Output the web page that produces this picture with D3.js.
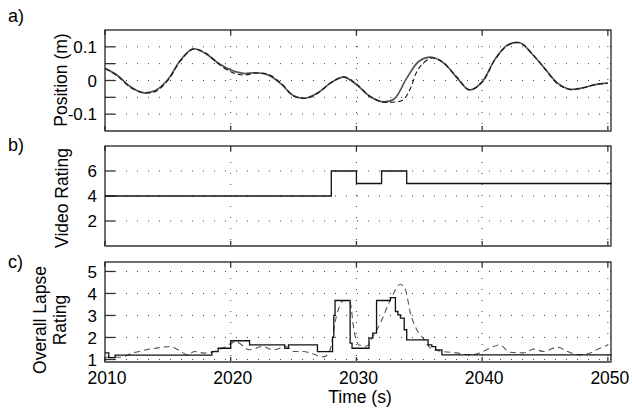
<!DOCTYPE html>
<html>
<head>
<meta charset="utf-8">
<script src="https://cdn.jsdelivr.net/npm/d3@7"></script>
<style>
  body { margin: 0; background: #fff; }
  svg { display: block; font-family: "Liberation Sans", Arial, sans-serif; }
  .grid line { stroke: #444; stroke-width: 1; stroke-dasharray: 1,10; }
  .tick-mark { stroke: #333; stroke-width: 1.3; }
</style>
</head>
<body>
<script>
// ---- data ----
const posTimes = [2010,2011,2012,2013,2014,2015,2016,2017,2018,2019,2020,2021,2022,2023,2024,2025,2026,2027,2028,2029,
  2030,2031,2032,2033,2034,2035,2036,2037,2038,2039,2040,2041,2042,2043,2044,2045,2046,2047,2048,2049,2050];
const posMeasured = [0.036,0.015,-0.018,-0.036,-0.030,0.003,0.060,0.094,0.080,0.052,0.031,0.021,0.023,0.016,-0.010,-0.045,-0.052,-0.035,-0.006,0.010,
  -0.012,-0.045,-0.063,-0.055,0.007,0.058,0.069,0.050,0.008,-0.028,-0.004,0.062,0.105,0.112,0.078,0.035,-0.008,-0.026,-0.022,-0.012,-0.008];

const posModelTimes = [2010,2011,2012,2013,2014,2015,2016,2017,2018,2019,2020,2021,2022,2023,2024,2025,2026,2027,2028,2029,
  2030,2031,2032,2033,2033.7,2034.3,2034.8,2035.3,2035.9,2036.5,2037,2038,2039,2040,2041,2042,2043,2044,2045,2046,2047,2048,2049,2050];
const posModel = [0.036,0.013,-0.020,-0.036,-0.033,0.000,0.058,0.093,0.082,0.050,0.026,0.016,0.022,0.018,-0.008,-0.046,-0.053,-0.036,-0.006,0.011,
  -0.010,-0.046,-0.063,-0.064,-0.058,-0.023,0.026,0.051,0.066,0.063,0.050,0.010,-0.028,-0.005,0.060,0.104,0.112,0.078,0.034,-0.010,-0.027,-0.022,-0.012,-0.008];

const videoTimes = [2010, 2028, 2030, 2032, 2034, 2050.3];
const videoRating = [4, 6, 5, 6, 5, 5];

const lapseTimes = [2010,2010.3,2010.8,2018.5,2019.0,2020.0,2021.5,2024.3,2024.6,2026.9,2028.1,2028.2,2028.3,2029.5,2029.65,
  2031.0,2031.3,2031.6,2032.7,2033.1,2033.3,2033.5,2033.8,2034.0,2035.7,2036.0,2036.3,2036.8,2050.3];
const lapseRating = [1.30,1.08,1.20,1.36,1.51,1.85,1.66,1.50,1.66,1.36,2.0,3.0,3.68,1.74,1.51,
  1.97,2.20,3.68,3.81,3.18,3.03,2.88,2.35,1.89,1.66,1.58,1.44,1.21,1.21];

const lapseModelTimes = [2010,2011.2,2012.2,2013.3,2014.4,2015.2,2015.8,2016.6,2017.1,2017.9,2018.7,2019.5,2020.4,2021.5,2022.5,2023.4,2024.4,2025,2025.8,2026.3,2027.4,2027.9,
  2028.4,2029,2029.5,2029.8,2030.2,2030.8,2031.3,2031.9,2032.7,2033.5,2033.9,2034.3,2034.8,2035.3,2035.9,2036.9,2038,2039,2039.8,2040.6,2041.4,2042.2,2043.3,2044.1,2044.9,2046,2046.8,2047.8,2048.6,2049.1,2050];
const lapseModel = [1.10,1.10,1.29,1.44,1.54,1.59,1.44,1.21,1.36,1.29,1.36,1.56,1.81,1.44,1.59,1.44,1.59,1.36,1.36,1.30,1.12,1.44,
  2.95,3.68,3.56,2.35,1.66,1.60,2.04,2.65,3.71,4.42,4.16,3.10,2.35,1.97,1.51,1.36,1.30,1.21,1.29,1.51,1.66,1.33,1.30,1.47,1.36,1.56,1.36,1.21,1.29,1.44,1.66];

const xTicks = [2010, 2020, 2030, 2040, 2050];
const posTicks = [-0.1, -0.05, 0, 0.05, 0.1];
const posTickLabels = [-0.1, 0, 0.1];
const videoTicks = [2, 4, 6];
const lapseTicks = [1, 2, 3, 4, 5];

// ---- layout ----
const W = 632, H = 413;
const left = 105, right = 611;

const svg = d3.select('body').append('svg')
  .attr('width', W)
  .attr('height', H);

svg.append('rect').attr('width', W).attr('height', H).attr('fill', '#fff');

const x = d3.scaleLinear().domain([2010, 2050.25]).range([left, right]);

function panel(opts) {
  const y = d3.scaleLinear().domain(opts.domain).range([opts.bottom, opts.top]);
  const g = svg.append('g');

  // dotted grid
  const grid = g.append('g').attr('class', 'grid');
  grid.selectAll('.hg').data(opts.yTicks).enter().append('line')
    .attr('x1', left + 10).attr('x2', right)
    .attr('y1', d => y(d)).attr('y2', d => y(d));
  grid.selectAll('.vg').data(xTicks.slice(1)).enter().append('line')
    .attr('x1', d => x(d)).attr('x2', d => x(d))
    .attr('y1', opts.top + 5).attr('y2', opts.bottom - 5);

  // y ticks (inward)
  g.selectAll('.yt').data(opts.yTicks).enter().append('line')
    .attr('class', 'tick-mark')
    .attr('x1', left).attr('x2', left + 10)
    .attr('y1', d => y(d)).attr('y2', d => y(d));
  // x ticks top and bottom
  g.selectAll('.xtb').data(xTicks).enter().append('line')
    .attr('class', 'tick-mark')
    .attr('x1', d => x(d)).attr('x2', d => x(d))
    .attr('y1', opts.bottom).attr('y2', opts.bottom - 5);
  g.selectAll('.xtt').data(xTicks).enter().append('line')
    .attr('class', 'tick-mark')
    .attr('x1', d => x(d)).attr('x2', d => x(d))
    .attr('y1', opts.top).attr('y2', opts.top + 5);

  // tick labels
  g.selectAll('.yl').data(opts.yLabels).enter().append('text')
    .attr('x', left - 8)
    .attr('y', d => y(d))
    .attr('dy', '0.36em')
    .attr('text-anchor', 'end')
    .attr('font-size', 17)
    .text(d => d);

  // frame
  g.append('rect')
    .attr('x', left).attr('y', opts.top)
    .attr('width', right - left).attr('height', opts.bottom - opts.top)
    .attr('fill', 'none').attr('stroke', '#111').attr('stroke-width', 1.2);
  g.append('line')
    .attr('x1', left).attr('x2', right)
    .attr('y1', opts.bottom).attr('y2', opts.bottom)
    .attr('stroke', '#666').attr('stroke-width', 1.8);

  // panel letter
  svg.append('text').attr('x', 8).attr('y', opts.letterY)
    .attr('font-size', 18).text(opts.letter);

  // axis title (rotated)
  const t = svg.append('text')
    .attr('transform', `translate(${opts.titleX},${opts.titleY}) rotate(-90)`)
    .attr('text-anchor', 'middle')
    .attr('font-size', 17.5);
  opts.title.forEach((line, i) => {
    t.append('tspan').attr('x', 0).attr('dy', i === 0 ? 0 : '1.15em').text(line);
  });

  return { g, y };
}

// a) position
const pa = panel({ top: 30, bottom: 131, domain: [-0.15, 0.15], yTicks: posTicks, yLabels: posTickLabels,
  letter: 'a)', letterY: 22, title: ['Position (m)'], titleX: 67, titleY: 80 });
const lineA = d3.line().x(d => x(d[0])).y(d => pa.y(d[1])).curve(d3.curveCatmullRom);
pa.g.append('path')
  .datum(d3.zip(posTimes, posMeasured))
  .attr('d', lineA)
  .attr('fill', 'none').attr('stroke', '#555').attr('stroke-width', 1.7);
pa.g.append('path')
  .datum(d3.zip(posModelTimes, posModel))
  .attr('d', lineA)
  .attr('fill', 'none').attr('stroke', '#111').attr('stroke-width', 1.1)
  .attr('stroke-dasharray', '5,3');

// b) video rating
const pb = panel({ top: 146, bottom: 246, domain: [0, 8], yTicks: videoTicks, yLabels: videoTicks,
  letter: 'b)', letterY: 151, title: ['Video Rating'], titleX: 68, titleY: 198 });
pb.g.append('path')
  .datum(d3.zip(videoTimes, videoRating))
  .attr('d', d3.line().x(d => x(d[0])).y(d => pb.y(d[1])).curve(d3.curveStepAfter))
  .attr('fill', 'none').attr('stroke', '#111').attr('stroke-width', 1.3);

// c) overall lapse rating
const pc = panel({ top: 262, bottom: 362, domain: [0.885, 5.43], yTicks: lapseTicks, yLabels: lapseTicks,
  letter: 'c)', letterY: 268, title: ['Overall Lapse', 'Rating'], titleX: 46, titleY: 320 });
pc.g.append('path')
  .datum(d3.zip(lapseModelTimes, lapseModel))
  .attr('d', d3.line().x(d => x(d[0])).y(d => pc.y(d[1])).curve(d3.curveMonotoneX))
  .attr('fill', 'none').attr('stroke', '#555').attr('stroke-width', 1.1)
  .attr('stroke-dasharray', '6,4');
pc.g.append('path')
  .datum(d3.zip(lapseTimes, lapseRating))
  .attr('d', d3.line().x(d => x(d[0])).y(d => pc.y(d[1])).curve(d3.curveStepAfter))
  .attr('fill', 'none').attr('stroke', '#111').attr('stroke-width', 1.3);

// x tick labels and title
svg.selectAll('.xl').data(xTicks).enter().append('text')
  .attr('x', d => x(d) + 2)
  .attr('y', 384)
  .attr('text-anchor', 'middle')
  .attr('font-size', 17.5)
  .text(d => d);

svg.append('text')
  .attr('x', 360).attr('y', 403)
  .attr('text-anchor', 'middle')
  .attr('font-size', 17.5)
  .text('Time (s)');
</script>
</body>
</html>
